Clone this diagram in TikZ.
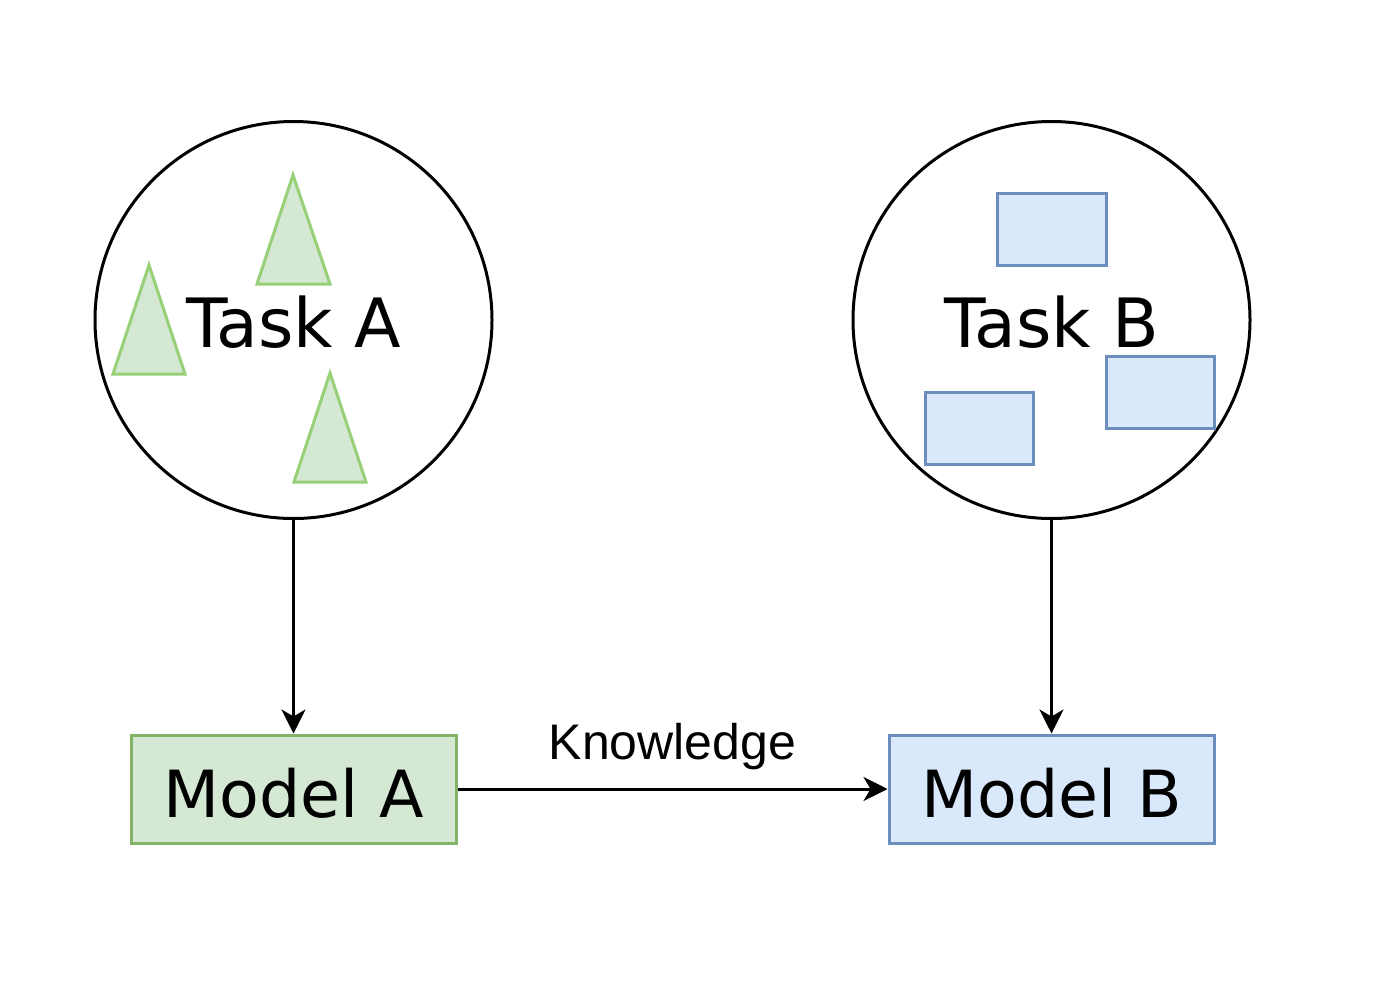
\documentclass[tikz,border=0pt]{standalone}
\usepackage{fontspec}
\setmainfont{DejaVu Sans}
\newfontfamily\arialfont{Liberation Sans}
\usetikzlibrary{arrows.meta}
\definecolor{gfill}{HTML}{D5E8D4}
\definecolor{gline}{HTML}{82B366}
\definecolor{tline}{HTML}{97D077}
\definecolor{bfill}{HTML}{DAE8FC}
\definecolor{bline}{HTML}{6C8EBF}
\begin{document}
\begin{tikzpicture}[x=1pt,y=-1pt,
  taskcircle/.style={circle,draw=black,line width=3pt,minimum size=397pt,inner sep=0pt,text height=54pt,text depth=0pt,font=\fontsize{68}{80}\selectfont},
  modelbox/.style={rectangle,line width=3pt,minimum width=325pt,minimum height=108pt,inner sep=0pt,text height=56pt,text depth=0pt,font=\fontsize{65}{80}\selectfont},
  tri/.style={draw=tline,fill=gfill,line width=3pt},
  sq/.style={draw=bline,fill=bfill,line width=3pt},
  conn/.style={line width=3pt,-{Stealth[length=24pt,width=24pt,inset=7pt]}}]
\useasboundingbox (0,0) rectangle (1388,996);
% task circles
\node[taskcircle] (tA) at (293.5,320) {Task A};
\node[taskcircle] (tB) at (1051.5,320) {Task B};
% triangles
\draw[tri] (293,175) -- (330,284) -- (257,284) -- cycle;
\draw[tri] (149,265) -- (185,374) -- (113,374) -- cycle;
\draw[tri] (330,373) -- (366,482) -- (294,482) -- cycle;
% rectangles
\draw[sq] (997,193) rectangle (1106,265);
\draw[sq] (1106,356) rectangle (1214,428);
\draw[sq] (925,392) rectangle (1033,464);
% model boxes
\node[modelbox,draw=gline,fill=gfill] (mA) at (293.5,789) {Model A};
\node[modelbox,draw=bline,fill=bfill] (mB) at (1051.5,789) {Model B};
% connectors
\draw[conn] (tA.south) -- (mA.north);
\draw[conn] (tB.south) -- (mB.north);
\draw[conn] (mA.east) -- node[above=18pt,inner sep=0pt,font=\arialfont\fontsize{50}{60}\selectfont] {Knowledge} (mB.west);
\end{tikzpicture}
\end{document}
